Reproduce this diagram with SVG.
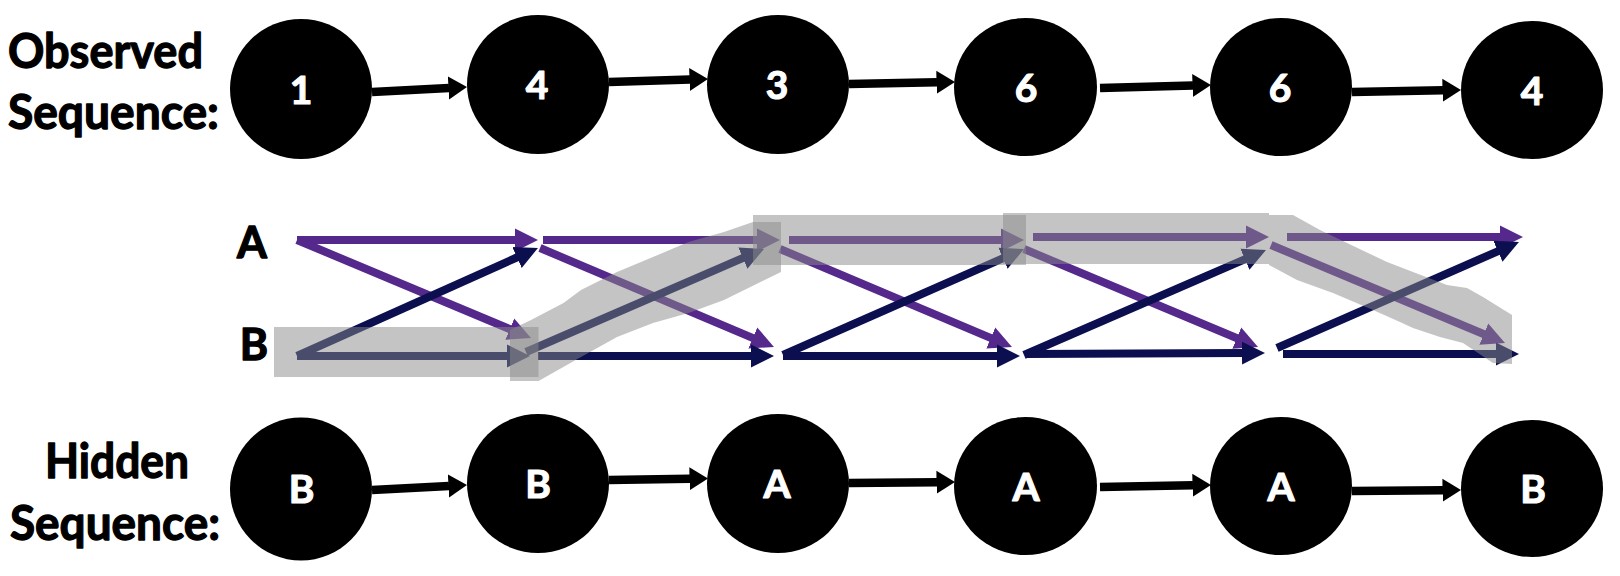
<svg xmlns="http://www.w3.org/2000/svg" width="1620" height="576" viewBox="0 0 1620 576">
<style>
.lbl{font-family:Lato,"Open Sans","DejaVu Sans",sans-serif;font-weight:700;fill:#000;stroke:#000;stroke-width:1.3;stroke-linejoin:round}
.big{font-size:48px}
.st{font-size:43px;text-anchor:middle}
.num{font-family:Lato,"Open Sans","DejaVu Sans",sans-serif;font-weight:700;font-size:39px;fill:#fff;stroke:#fff;stroke-width:1.1;stroke-linejoin:round;text-anchor:middle}
.node{fill:#000}
.seq{stroke:#000;stroke-width:8.5;fill:none;marker-end:url(#hK)}
.p{stroke:#55288C;stroke-width:8;fill:none;marker-end:url(#hP)}
.n{stroke:#0B0E4F;stroke-width:8;fill:none;marker-end:url(#hN)}
.band{fill:#898989;fill-opacity:0.5}
</style>
<defs>
<marker id="hK" markerUnits="userSpaceOnUse" markerWidth="20" markerHeight="24" viewBox="0 -12 20 24" refX="0.5" refY="0" orient="auto"><path d="M0,-11.5 L18.5,0 L0,11.5 z" fill="#000"/></marker>
<marker id="hP" markerUnits="userSpaceOnUse" markerWidth="24" markerHeight="24" viewBox="0 -12 24 24" refX="1" refY="0" orient="auto"><path d="M0,-11.5 L23,0 L0,11.5 z" fill="#55288C"/></marker>
<marker id="hN" markerUnits="userSpaceOnUse" markerWidth="24" markerHeight="24" viewBox="0 -12 24 24" refX="1" refY="0" orient="auto"><path d="M0,-11.5 L23,0 L0,11.5 z" fill="#0B0E4F"/></marker>
</defs>
<rect width="1620" height="576" fill="#fff"/>

<g id="label-observed"><text class="lbl big" x="8" y="68" textLength="195" lengthAdjust="spacingAndGlyphs">Observed</text><text class="lbl big" x="8" y="129" textLength="211" lengthAdjust="spacingAndGlyphs">Sequence:</text></g>
<g id="label-hidden"><text class="lbl big" x="45" y="478" textLength="144" lengthAdjust="spacingAndGlyphs">Hidden</text><text class="lbl big" x="10" y="540" textLength="210" lengthAdjust="spacingAndGlyphs">Sequence:</text></g>
<g id="state-A"><text class="lbl st" x="252" y="258">A</text></g>
<g id="state-B"><text class="lbl st" x="254" y="360">B</text></g>

<g id="connectors">
<path class="seq" d="M372,92 L449,88"/>
<path class="seq" d="M609,82 L690,79.5"/>
<path class="seq" d="M849,84 L937,82.3"/>
<path class="seq" d="M1100,88 L1193,85.5"/>
<path class="seq" d="M1352,92 L1443,90.3"/>
<path class="seq" d="M372,490 L449,486"/>
<path class="seq" d="M609,480 L690,478.8"/>
<path class="seq" d="M849,483 L937,482.2"/>
<path class="seq" d="M1100,487 L1193,485.3"/>
<path class="seq" d="M1352,491 L1443,490.2"/>
</g>

<g id="trellis">
<path class="p" d="M297,240 L516,240"/>
<path class="p" d="M297,240 L510.7,329.5"/>
<path class="n" d="M297,356 L517.9,257"/>
<path class="n" d="M297,356 L508,356"/>
<path class="p" d="M543,240 L758,240"/>
<path class="p" d="M540,248 L753.7,338.4"/>
<path class="n" d="M526,352 L743.8,257.7"/>
<path class="n" d="M538,356 L752,356"/>
<path class="p" d="M789,240 L1002,240"/>
<path class="p" d="M780,249 L991.7,338.4"/>
<path class="n" d="M783,355 L1003.9,257.9"/>
<path class="n" d="M783,356 L998,356"/>
<path class="p" d="M1033,237 L1247,237"/>
<path class="p" d="M1024,249 L1237.7,338.5"/>
<path class="n" d="M1024,355 L1245.8,258.8"/>
<path class="n" d="M1026,354 L1243,353.1"/>
<path class="p" d="M1287,237 L1501,237"/>
<path class="p" d="M1271,245 L1484.7,334.5"/>
<path class="n" d="M1277,348 L1498.8,250.8"/>
<path class="n" d="M1283,354 L1497,354"/>
</g>

<g id="highlight-path">
<rect class="band" x="274" y="327" width="264.5" height="50"/>
<path class="band" d="M510,330 L531,320 L563.5,303 L581,290 L617,272 L653,257 L688.5,242 L724,232 L753,222 L781,222 L781,272 L724,300 L688.5,313 L653,323 L617,337 L581,357 L538.5,381 L510,381 Z"/>
<rect class="band" x="753" y="215" width="273" height="50"/>
<rect class="band" x="1003" y="213" width="266" height="51"/>
<path class="band" d="M1269,215 L1293,215 L1320,230 L1347,243 L1387,262 L1413,272 L1447,285 L1467,288 L1483,297 L1512,315 L1512,364 L1493,363 L1463,343 L1440,337 L1413,328 L1400,322 L1373,310 L1333,293 L1297,280 L1269,265 Z"/>
</g>

<g id="obs1"><ellipse class="node" cx="301" cy="89" rx="71" ry="70"/><text class="num" x="301" y="104">1</text></g>
<g id="obs2"><ellipse class="node" cx="538" cy="84.5" rx="71" ry="69.5"/><text class="num" x="537" y="99">4</text></g>
<g id="obs3"><ellipse class="node" cx="778" cy="84.5" rx="71" ry="69.5"/><text class="num" x="777" y="99">3</text></g>
<g id="obs4"><ellipse class="node" cx="1025.5" cy="87" rx="71.5" ry="69"/><text class="num" x="1026" y="101.5">6</text></g>
<g id="obs5"><ellipse class="node" cx="1281" cy="87" rx="71" ry="69"/><text class="num" x="1280" y="101.5">6</text></g>
<g id="obs6"><ellipse class="node" cx="1532" cy="90" rx="71" ry="69"/><text class="num" x="1532" y="105">4</text></g>

<g id="hid1"><ellipse class="node" cx="301" cy="489" rx="71" ry="71.5"/><text class="num" x="301.5" y="503">B</text></g>
<g id="hid2"><ellipse class="node" cx="538" cy="483.5" rx="71" ry="69.5"/><text class="num" x="538" y="498">B</text></g>
<g id="hid3"><ellipse class="node" cx="778" cy="483.5" rx="71" ry="69.5"/><text class="num" x="777" y="498">A</text></g>
<g id="hid4"><ellipse class="node" cx="1025.5" cy="486" rx="71.5" ry="69"/><text class="num" x="1026" y="501">A</text></g>
<g id="hid5"><ellipse class="node" cx="1281" cy="486" rx="71" ry="69"/><text class="num" x="1281" y="501">A</text></g>
<g id="hid6"><ellipse class="node" cx="1532" cy="488.5" rx="71" ry="68.5"/><text class="num" x="1533" y="503">B</text></g>
</svg>
